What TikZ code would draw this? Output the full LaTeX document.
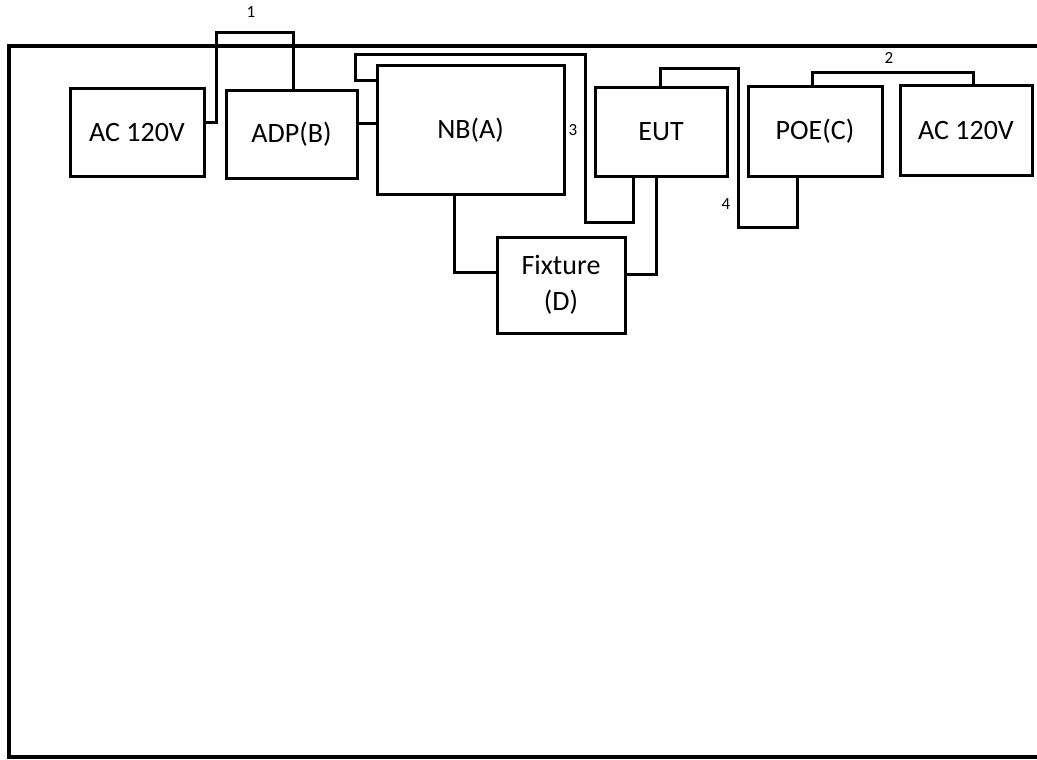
\documentclass[tikz,border=0pt]{standalone}
\usepackage{fontspec}
\setmainfont{Carlito}
\begin{document}
\begin{tikzpicture}[x=1pt,y=-1pt,
  blk/.style={draw,line width=3pt,outer sep=0pt,inner sep=0pt,font=\fontsize{28}{36}\selectfont,align=center},
  wire/.style={line width=3pt},
  num/.style={font=\fontsize{17}{20}\selectfont,inner sep=0pt}]
\useasboundingbox (0,0) rectangle (1037,760);
\draw[line width=4.5pt] (1037,46) -- (9,46) -- (9,757) -- (1037,757);
\node[blk,minimum width=134pt,minimum height=87pt] (ac1) at (137,132.5) {AC 120V};
\node[blk,minimum width=131pt,minimum height=87pt] (adp) at (291.5,134.5) {ADP(B)};
\node[blk,minimum width=187pt,minimum height=128pt] (nb) at (470.5,130) {NB(A)};
\node[blk,minimum width=132pt,minimum height=88pt] (eut) at (661,132) {EUT};
\node[blk,minimum width=128pt,minimum height=96pt] (fix) at (561,285) {Fixture\\(D)};
\node[blk,minimum width=134pt,minimum height=89pt] (poe) at (815,131.5) {POE(C)};
\node[blk,minimum width=132pt,minimum height=89pt] (ac2) at (966,130.5) {AC 120V};
\node[num] (l1) at (251,12) {1};
\node[num] (l2) at (889,58) {2};
\node[num] (l3) at (573,130) {3};
\node[num] (l4) at (726,204) {4};
\draw[wire] (ac1.east |- 0,122) -| (216,33) -| (adp.north -| 293,0);
\draw[wire] (adp.east |- 0,123) -- (nb.west |- 0,123);
\draw[wire] (nb.west |- 0,81) -| (355,55) -| (585,222) -| (eut.south -| 633,0);
\draw[wire] (nb.south -| 454,0) |- (fix.west |- 0,272);
\draw[wire] (eut.south -| 656,0) |- (fix.east |- 0,274);
\draw[wire] (eut.north -| 660,0) |- (738,69) |- (797,227) -- (poe.south -| 797,0);
\draw[wire] (poe.north -| 812,0) |- (973,73) -- (ac2.north -| 973,0);
\end{tikzpicture}
\end{document}
